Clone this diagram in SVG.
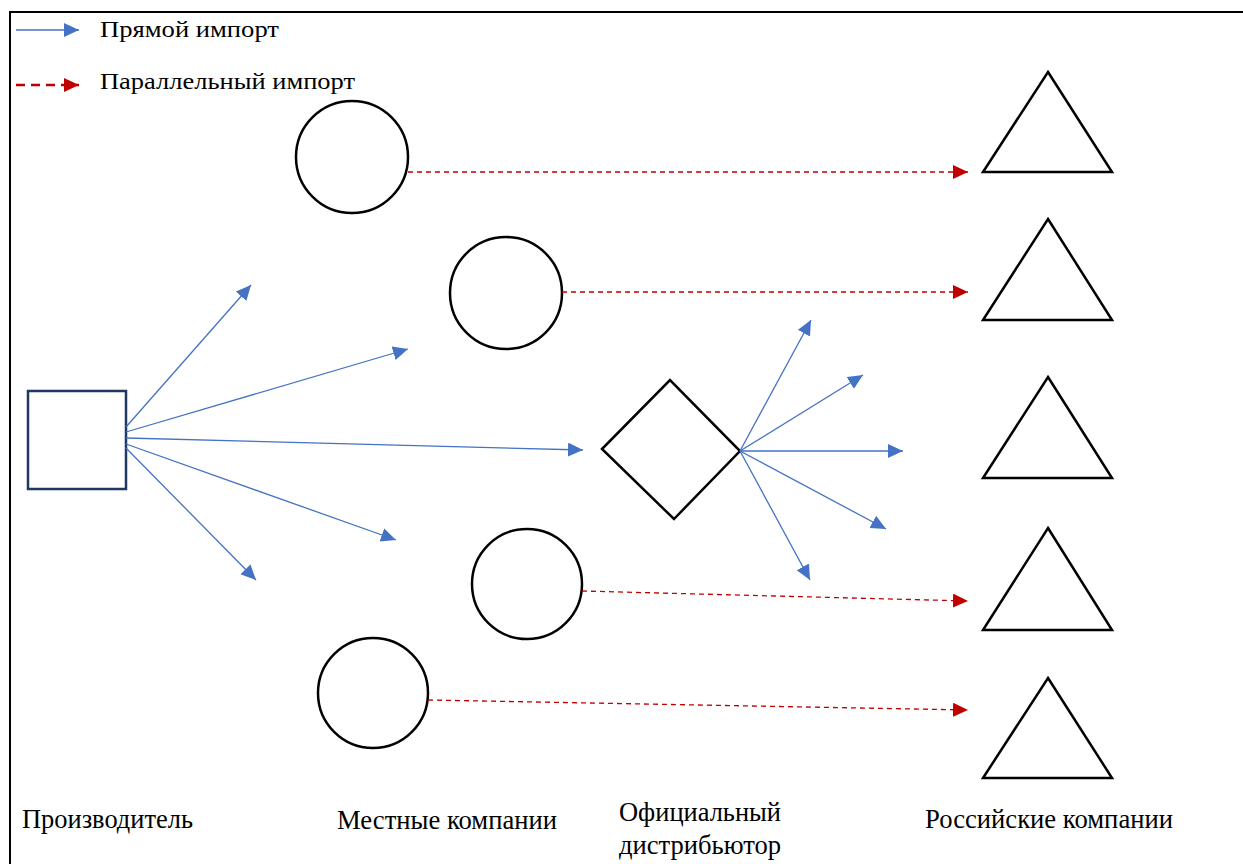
<svg xmlns="http://www.w3.org/2000/svg" width="1243" height="864" viewBox="0 0 1243 864">
<style>
.shape{fill:#fff;stroke:#000;stroke-width:2.5}
.blue{stroke:#4472C4;stroke-width:1.3;fill:none;marker-end:url(#ab)}
.red{stroke:#C00000;stroke-width:1.3;fill:none;stroke-dasharray:5,4;marker-end:url(#ar)}
text{font-family:'Liberation Serif','Times New Roman','DejaVu Serif',serif;fill:#000}
.leg{font-size:24px}
.lab{font-size:27px}
</style>
<defs>
<marker id="ab" markerUnits="userSpaceOnUse" markerWidth="16" markerHeight="16" refX="15" refY="7" orient="auto"><path d="M0,0L15,7L0,14z" fill="#4472C4"/></marker>
<marker id="ar" markerUnits="userSpaceOnUse" markerWidth="16" markerHeight="16" refX="15" refY="7" orient="auto"><path d="M0,0L15,7L0,14z" fill="#C00000"/></marker>
</defs>
<rect width="1243" height="864" fill="#fff"/>
<g id="frame" stroke="#000" stroke-width="2"><line x1="9" y1="12" x2="1243" y2="12"/><line x1="10" y1="12" x2="10" y2="864"/></g>
<g id="legend">
<line class="blue" x1="16" y1="30" x2="79" y2="30"/>
<text class="leg" x="100" y="37" textLength="179" lengthAdjust="spacingAndGlyphs">Прямой импорт</text>
<line class="red" x1="16" y1="85" x2="79" y2="85" style="stroke-dasharray:9,6;stroke-width:2.5"/>
<text class="leg" x="100" y="89" textLength="255" lengthAdjust="spacingAndGlyphs">Параллельный импорт</text>
</g>
<g id="producer"><rect x="28" y="391" width="98" height="98" fill="#fff" stroke="#1F3864" stroke-width="2.5"/></g>
<g id="local1"><circle class="shape" cx="352" cy="157" r="56"/></g>
<g id="local2"><circle class="shape" cx="506" cy="293" r="56"/></g>
<g id="local3"><circle class="shape" cx="527" cy="584" r="55"/></g>
<g id="local4"><circle class="shape" cx="373" cy="693" r="55"/></g>
<g id="distributor"><polygon class="shape" points="602,449 670,380 740,451 674,519"/></g>
<g id="ru1"><polygon class="shape" points="1048,72 1112,172 983,172"/></g>
<g id="ru2"><polygon class="shape" points="1048,219 1112,320 983,320"/></g>
<g id="ru3"><polygon class="shape" points="1048,377 1112,478 983,478"/></g>
<g id="ru4"><polygon class="shape" points="1048,528 1112,630 983,630"/></g>
<g id="ru5"><polygon class="shape" points="1048,678 1112,778 983,778"/></g>
<g id="connectors">
<line class="blue" x1="126" y1="427" x2="251" y2="285"/>
<line class="blue" x1="126" y1="432" x2="408" y2="349"/>
<line class="blue" x1="126" y1="438" x2="583" y2="450"/>
<line class="blue" x1="126" y1="444" x2="396" y2="540"/>
<line class="blue" x1="126" y1="448" x2="256" y2="580"/>
<line class="blue" x1="740" y1="451" x2="811" y2="320"/>
<line class="blue" x1="740" y1="451" x2="863" y2="375"/>
<line class="blue" x1="740" y1="451" x2="903" y2="451"/>
<line class="blue" x1="740" y1="451" x2="886" y2="529"/>
<line class="blue" x1="740" y1="451" x2="810" y2="580"/>
<line class="red" x1="408" y1="172" x2="968" y2="172"/>
<line class="red" x1="562" y1="292" x2="968" y2="292"/>
<line class="red" x1="582" y1="591" x2="968" y2="601"/>
<line class="red" x1="428" y1="700" x2="968" y2="710"/>
</g>
<g id="labels">
<text class="lab" x="22" y="828" textLength="171" lengthAdjust="spacingAndGlyphs">Производитель</text>
<text class="lab" x="337" y="829" textLength="220" lengthAdjust="spacingAndGlyphs">Местные компании</text>
<text class="lab" x="619" y="821" textLength="162" lengthAdjust="spacingAndGlyphs">Официальный</text>
<text class="lab" x="619" y="854" textLength="162" lengthAdjust="spacingAndGlyphs">дистрибьютор</text>
<text class="lab" x="925" y="828" textLength="248" lengthAdjust="spacingAndGlyphs">Российские компании</text>
</g>
</svg>
